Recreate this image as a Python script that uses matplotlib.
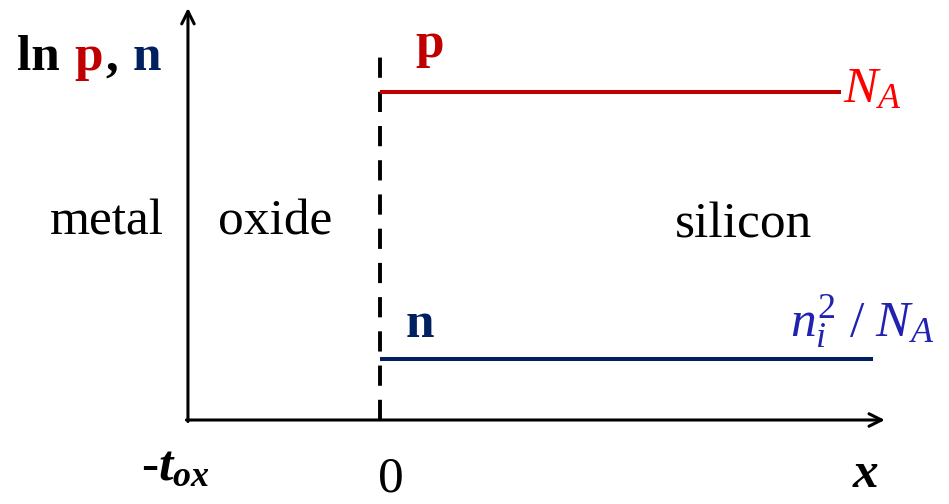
import matplotlib.pyplot as plt

plt.rcParams["font.family"] = ["Liberation Serif", "DejaVu Serif"]
plt.rcParams["mathtext.fontset"] = "custom"
plt.rcParams["mathtext.rm"] = "Liberation Serif"
plt.rcParams["mathtext.it"] = "Liberation Serif:italic"
plt.rcParams["mathtext.bf"] = "Liberation Serif:bold"
plt.rcParams["mathtext.bfit"] = "Liberation Serif:italic:bold"

# positions along x (oxide thickness = 1 unit) and log concentration levels
t_ox = 1.0
x_end = 2.63
y_top = 2.146
p_x = [0.0, 2.40]
p_level = [1.71, 1.71]
n_x = [0.0, 2.57]
n_level = [0.32, 0.32]
interface_top = 1.935
region_names = ["metal", "oxide", "silicon"]
region_x = [-1.72, -0.845, 1.535]
region_y = [0.964, 0.964, 0.953]
tick_pos = [-t_ox, 0.0]
tick_labels = [r"-$\mathbfit{t_{ox}}$", "0"]

red_line = "#C00000"
red_text = "#FF0000"
navy = "#002060"
blue_text = "#2222B0"
FS = 37

fig = plt.figure(figsize=(9.49, 5.04), dpi=100)
ax = fig.add_axes([0, 0, 1, 1])
ax.set_xlim(-1.979, 2.964)
ax.set_ylim(-0.4375, 2.1875)
ax.axis("off")

arrow = dict(arrowstyle="->,head_length=0.9,head_width=0.45", lw=2.2, color="black",
             shrinkA=0, shrinkB=0)
ax.annotate("", xy=(x_end, 0), xytext=(-t_ox - 0.008, 0), arrowprops=arrow)
ax.annotate("", xy=(-t_ox, y_top), xytext=(-t_ox, -0.008), arrowprops=arrow)

# oxide / silicon interface
ax.plot([0, 0], [0, interface_top], color="black", lw=2.8, linestyle=(0, (5.2, 3.6)))

ax.plot(p_x, p_level, color=red_line, lw=2.9, solid_capstyle="butt")
ax.plot(n_x, n_level, color=navy, lw=2.9, solid_capstyle="butt")

for name, xl, yb in zip(region_names, region_x, region_y):
    ax.text(xl, yb, name, fontsize=FS, ha="left", va="baseline")

# y label "ln p, n" with coloured letters
ax.text(-1.89, 1.823, "ln", fontsize=FS, fontweight="bold", ha="left", va="baseline")
ax.text(-1.59, 1.823, "p", fontsize=FS, fontweight="bold", color=red_line, ha="left", va="baseline")
ax.text(-1.43, 1.823, ",", fontsize=FS, fontweight="bold", ha="left", va="baseline")
ax.text(-1.29, 1.823, "n", fontsize=FS, fontweight="bold", color=navy, ha="left", va="baseline")

ax.text(0.185, 1.891, "p", fontsize=FS, fontweight="bold", color=red_line, ha="left", va="baseline")
ax.text(0.135, 0.432, "n", fontsize=FS, fontweight="bold", color=navy, ha="left", va="baseline")

ax.text(2.41, 1.656, r"$N_A$", fontsize=FS, color=red_text, ha="left", va="baseline")
ax.text(2.885, 0.432, r"$n_i^2\ /\ N_A$", fontsize=FS, color=blue_text, ha="right", va="baseline")

ax.text(-1.245, -0.3125, tick_labels[0], fontsize=FS, fontweight="bold", ha="left", va="baseline")
ax.text(tick_pos[1] + 0.057, -0.375, tick_labels[1], fontsize=FS, ha="center", va="baseline")
ax.text(2.46, -0.35, "x", fontsize=FS, fontweight="bold", fontstyle="italic",
        ha="left", va="baseline")

fig.savefig("out.png", dpi=100)
